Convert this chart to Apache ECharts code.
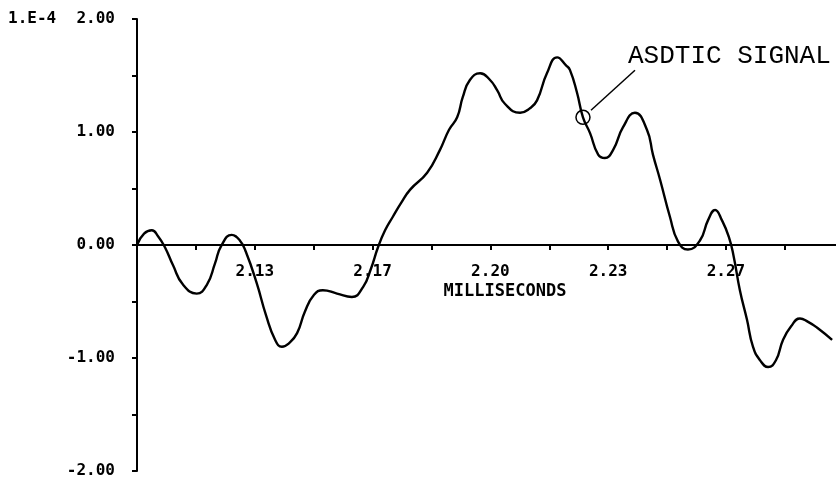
<!DOCTYPE html>
<html><head><meta charset="utf-8">
<script src="https://cdn.jsdelivr.net/npm/echarts@6/dist/echarts.min.js"></script>
<style>html,body{margin:0;padding:0;background:#fff}#c{width:836px;height:486px}</style>
</head><body><div id="c"></div>
<script>
// time in milliseconds
const times = [
  2.1000, 2.1020, 2.1042, 2.1059, 2.1079, 2.1102, 2.1130, 2.1169, 2.1198, 2.1221,
  2.1238, 2.1268, 2.1291, 2.1308, 2.1339, 2.1365, 2.1391, 2.1410, 2.1430, 2.1453,
  2.1475, 2.1501, 2.1526, 2.1566, 2.1608, 2.1640, 2.1662, 2.1682, 2.1702, 2.1724,
  2.1747, 2.1773, 2.1821, 2.1857, 2.1883, 2.1906, 2.1922, 2.1942, 2.1971, 2.1999,
  2.2019, 2.2041, 2.2084, 2.2112, 2.2132, 2.2160, 2.2189, 2.2214, 2.2225, 2.2245,
  2.2262, 2.2282, 2.2305, 2.2324, 2.2347, 2.2375, 2.2409, 2.2443, 2.2460, 2.2480,
  2.2508, 2.2531, 2.2559, 2.2593, 2.2616, 2.2636, 2.2655, 2.2675, 2.2689, 2.2706,
  2.2726, 2.2743, 2.2763, 2.2786, 2.2808, 2.2828, 2.2851, 2.2876, 2.2899, 2.2924,
  2.2967
];
// signal in units of 1.E-4
const signal = [
  0.00, 0.10, 0.13, 0.08, -0.02, -0.18, -0.35, -0.43, -0.35, -0.16,
  -0.01, 0.09, 0.04, -0.06, -0.34, -0.62, -0.84, -0.90, -0.87, -0.78,
  -0.59, -0.44, -0.40, -0.43, -0.46, -0.37, -0.21, -0.02, 0.13, 0.25,
  0.37, 0.49, 0.64, 0.84, 1.02, 1.13, 1.31, 1.46, 1.52, 1.46,
  1.37, 1.25, 1.17, 1.21, 1.28, 1.52, 1.66, 1.59, 1.55, 1.35,
  1.13, 0.99, 0.80, 0.77, 0.84, 1.04, 1.17, 1.02, 0.80, 0.58,
  0.25, 0.03, -0.04, 0.04, 0.22, 0.31, 0.22, 0.07, -0.11, -0.40,
  -0.66, -0.90, -1.02, -1.08, -1.02, -0.84, -0.72, -0.65, -0.68, -0.73,
  -0.84
];
const xMin = 2.10, xMax = 2.2978, xTickStep = 1/60;
const xTickIndices = [1,2,3,4,5,6,7,8,9,10,11];
const xLabelIndices = [2,4,6,8,10];
const yMin = -2, yMax = 2, yTickStep = 0.5;
const yLabelValues = [-2, -1, 0, 1, 2];
const annotationIndex = 50;
const annotationText = 'ASDTIC SIGNAL';
const axisUnitText = '1.E-4';
const xAxisTitle = 'MILLISECONDS';

const gridTop = 19, gridBottom = 15, H = 486;
const lblFont = {fontFamily:'DejaVu Sans Mono', fontWeight:'bold', fontSize:16, color:'#000'};
const chart = echarts.init(document.getElementById('c'), null, {renderer:'canvas'});
// place the x axis at value 0 of the y range
const plotH = H - gridTop - gridBottom;
const zeroOffset = -plotH * (0 - yMin) / (yMax - yMin);
const option = {
  animation:false,
  backgroundColor:'#fff',
  grid:{left:137, right:0, top:gridTop, bottom:gridBottom, containLabel:false, outerBoundsMode:'none'},
  xAxis:{
    type:'value', min:xMin, max:xMax, offset: zeroOffset,
    axisLine:{onZero:false, lineStyle:{color:'#000', width:2}},
    axisTick:{show:true, length:5, lineStyle:{color:'#000', width:2},
      customValues: xTickIndices.map(i => xMin + i*xTickStep)},
    axisLabel:Object.assign({margin:19,
      customValues: xLabelIndices.map(i => xMin + i*xTickStep),
      formatter: v => v.toFixed(2)}, lblFont),
    splitLine:{show:false}
  },
  yAxis:{
    type:'value', min:yMin, max:yMax, interval:yTickStep,
    axisLine:{show:true, onZero:false, lineStyle:{color:'#000', width:2}},
    axisTick:{show:true, length:5, lineStyle:{color:'#000', width:2}},
    axisLabel:Object.assign({margin:22, customValues: yLabelValues, formatter: v => v.toFixed(2)}, lblFont),
    splitLine:{show:false}
  },
  series:[{
    type:'line', data: times.map((t,i)=>[t, signal[i]]),
    showSymbol:false, smooth:0.5,
    lineStyle:{color:'#000', width:2.4}
  }]
};
chart.setOption(option);
const p = chart.convertToPixel({gridIndex:0}, [times[annotationIndex], signal[annotationIndex]]);
chart.setOption({
  graphic:[
    {type:'circle', shape:{cx:p[0], cy:p[1], r:7}, style:{fill:'none', stroke:'#000', lineWidth:1.5}},
    {type:'line', shape:{x1:p[0]+8, y1:p[1]-7, x2:p[0]+52, y2:p[1]-47}, style:{stroke:'#000', lineWidth:1.5}},
    {type:'text', x:p[0]+45, y:p[1]-61, style:{text:annotationText, font:'26px "Liberation Mono"', fill:'#000', textAlign:'left', textVerticalAlign:'middle'}},
    {type:'text', x:8, y:19, style:{text:axisUnitText, font:'bold 16px "DejaVu Sans Mono"', fill:'#000', textAlign:'left', textVerticalAlign:'middle'}},
    {type:'text', x:505, y:292, style:{text:xAxisTitle, font:'bold 17px "DejaVu Sans Mono"', fill:'#000', textAlign:'center', textVerticalAlign:'middle'}}
  ]
});
</script></body></html>
